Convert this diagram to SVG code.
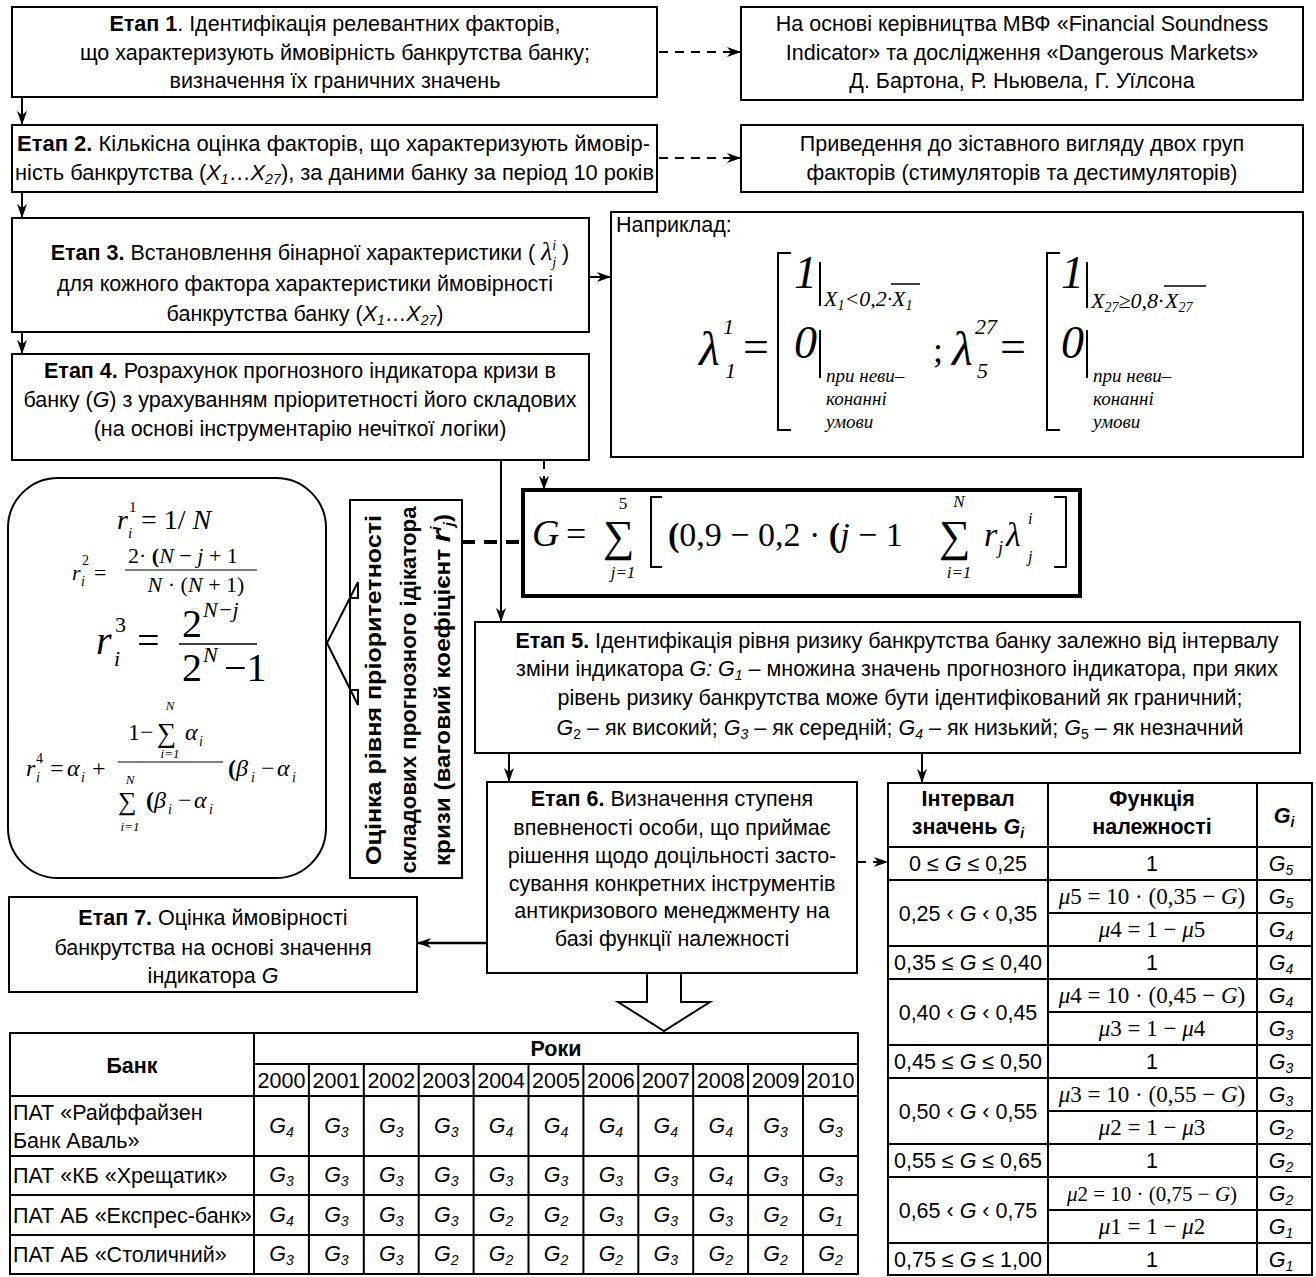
<svg xmlns="http://www.w3.org/2000/svg" width="1316" height="1277" viewBox="0 0 1316 1277">
<defs>
<marker id="ah" viewBox="0 0 14 10" refX="14" refY="5" markerWidth="14" markerHeight="10" markerUnits="userSpaceOnUse" orient="auto"><path d="M0,0 L14,5 L0,10 L4,5 z" fill="#000"/></marker>
</defs>
<style>
.b{fill:#fff;stroke:#000;stroke-width:2}
.t{font-family:"Liberation Sans",Arial,sans-serif;font-size:21.5px;fill:#000}
.c{text-anchor:middle}
.bd{font-weight:bold}
.i{font-style:italic}
.s{font-family:"Liberation Serif","Times New Roman",serif;fill:#000}
.si{font-family:"Liberation Serif","Times New Roman",serif;font-style:italic;fill:#000}
.ln{stroke:#000;stroke-width:2;fill:none}
.ds{stroke:#000;stroke-width:2;fill:none;stroke-dasharray:9 7}
.tb{stroke:#000;stroke-width:2;fill:none}
</style>
<rect width="1316" height="1277" fill="#fff"/>

<g id="stage1">
<rect class="b" x="12" y="7" width="645" height="90"/>
<text class="t c"><tspan x="335" y="31"><tspan class="bd">Етап 1</tspan>. Ідентифікація релевантних факторів,</tspan><tspan x="335" y="60">що характеризують ймовірність банкрутства банку;</tspan><tspan x="335" y="88">визначення їх граничних значень</tspan></text>
</g>

<g id="source1">
<rect class="b" x="741" y="7" width="562" height="93"/>
<text class="t c"><tspan x="1022" y="31">На основі керівництва МВФ «Financial Soundness</tspan><tspan x="1022" y="60">Indicator» та дослідження «Dangerous Markets»</tspan><tspan x="1022" y="88">Д. Бартона, Р. Ньювела, Г. Уїлсона</tspan></text>
</g>

<g id="stage2">
<rect class="b" x="12" y="125" width="645" height="67"/>
<text class="t" x="17" y="151" textLength="633" lengthAdjust="spacingAndGlyphs"><tspan class="bd">Етап 2.</tspan> Кількісна оцінка факторів, що характеризують ймовір-</text>
<text class="t" x="15" y="180" textLength="639" lengthAdjust="spacingAndGlyphs">ність банкрутства (<tspan class="i">X</tspan><tspan class="i" font-size="14" dy="4">1</tspan><tspan dy="-4">…</tspan><tspan class="i">X</tspan><tspan class="i" font-size="14" dy="4">27</tspan><tspan dy="-4">), за даними банку за період 10 років</tspan></text>
</g>

<g id="source2">
<rect class="b" x="741" y="125" width="562" height="67"/>
<text class="t c"><tspan x="1022" y="151">Приведення до зіставного вигляду двох груп</tspan><tspan x="1022" y="180">факторів (стимуляторів та дестимуляторів)</tspan></text>
</g>

<g id="stage3">
<rect class="b" x="12" y="218" width="577" height="114"/>
<text class="t c" x="310" y="260"><tspan class="bd">Етап 3.</tspan> Встановлення бінарної характеристики ( <tspan class="si" font-size="26">λ</tspan><tspan class="si" font-size="14" dy="-10">i</tspan><tspan class="si" font-size="14" dx="-4" dy="17">j</tspan><tspan dy="-7"> )</tspan></text>
<text class="t c" x="305" y="291">для кожного фактора характеристики ймовірності</text>
<text class="t c" x="305" y="321">банкрутства банку (<tspan class="i">X</tspan><tspan class="i" font-size="14" dy="4">1</tspan><tspan dy="-4">…</tspan><tspan class="i">X</tspan><tspan class="i" font-size="14" dy="4">27</tspan><tspan dy="-4">)</tspan></text>
</g>

<g id="example">
<rect class="b" x="611" y="212" width="692" height="245"/>
<text class="t" x="616" y="232">Наприклад:</text>
<text class="si" x="699" y="365" font-size="48">λ</text>
<text class="si" x="723" y="334" font-size="22">1</text>
<text class="si" x="725" y="378" font-size="22">1</text>
<text class="s" x="743" y="362" font-size="46">=</text>
<path class="ln" d="M791,253 H778 V430 H791" stroke-width="3"/>
<text class="si" x="794" y="288" font-size="46">1</text>
<line class="ln" x1="820" y1="262" x2="820" y2="306" stroke-width="1.5"/>
<text class="si" x="824" y="306" font-size="22">X<tspan font-size="14" dy="4">1</tspan><tspan dy="-4">&lt;0,2·</tspan></text>
<text class="si" x="892" y="306" font-size="22">X<tspan font-size="14" dy="4">1</tspan></text>
<line x1="891" y1="284" x2="920" y2="284" stroke="#000" stroke-width="1.5"/>
<text class="si" x="794" y="358" font-size="46">0</text>
<line class="ln" x1="820" y1="330" x2="820" y2="378" stroke-width="1.5"/>
<text class="si" font-size="19"><tspan x="826" y="382">при  неви–</tspan><tspan x="826" y="405">конанні</tspan><tspan x="826" y="428">умови</tspan></text>
<text class="s" x="933" y="362" font-size="36">;</text>
<text class="si" x="952" y="365" font-size="48">λ</text>
<text class="si" x="975" y="334" font-size="22">27</text>
<text class="si" x="977" y="378" font-size="22">5</text>
<text class="s" x="1000" y="362" font-size="46">=</text>
<path class="ln" d="M1060,253 H1047 V430 H1060" stroke-width="3"/>
<text class="si" x="1061" y="288" font-size="46">1</text>
<line class="ln" x1="1087" y1="262" x2="1087" y2="308" stroke-width="1.5"/>
<text class="si" x="1091" y="308" font-size="22">X<tspan font-size="14" dy="4">27</tspan><tspan dy="-4">≥0,8·</tspan></text>
<text class="si" x="1165" y="308" font-size="22">X<tspan font-size="14" dy="4">27</tspan></text>
<line x1="1164" y1="286" x2="1206" y2="286" stroke="#000" stroke-width="1.5"/>
<text class="si" x="1061" y="358" font-size="46">0</text>
<line class="ln" x1="1087" y1="330" x2="1087" y2="378" stroke-width="1.5"/>
<text class="si" font-size="19"><tspan x="1093" y="382">при  неви–</tspan><tspan x="1093" y="405">конанні</tspan><tspan x="1093" y="428">умови</tspan></text>
</g>

<g id="stage4">
<rect class="b" x="12" y="354" width="577" height="106"/>
<text class="t c"><tspan x="300" y="378"><tspan class="bd">Етап 4.</tspan> Розрахунок прогнозного індикатора кризи в</tspan><tspan x="300" y="407">банку (<tspan class="i">G</tspan>) з урахуванням пріоритетності його складових</tspan><tspan x="300" y="436">(на основі інструментарію нечіткої логіки)</tspan></text>
</g>

<g id="formulaG">
<rect x="523" y="490" width="557" height="106" fill="#fff" stroke="#000" stroke-width="4"/>
<text class="si" x="532" y="546" font-size="38">G</text>
<text class="s" x="566" y="546" font-size="36">=</text>
<text class="s" x="603" y="551" font-size="44">∑</text>
<text class="s c" x="623" y="509" font-size="17">5</text>
<text class="si c" x="623" y="578" font-size="17">j<tspan class="s">=1</tspan></text>
<path class="ln" d="M662,497 H651 V567 H662"/>
<text class="s" x="668" y="546" font-size="34"><tspan font-weight="bold">(</tspan>0,9 − 0,2 · <tspan font-weight="bold">(</tspan><tspan class="si">j</tspan> − 1</text>
<text class="s" x="939" y="551" font-size="44">∑</text>
<text class="si c" x="959" y="507" font-size="17">N</text>
<text class="si c" x="959" y="578" font-size="17">i<tspan class="s">=1</tspan></text>
<text class="si" x="984" y="546" font-size="34">r</text>
<text class="si" x="998" y="554" font-size="18">j</text>
<text class="si" x="1006" y="546" font-size="34">λ</text>
<text class="si" x="1028" y="524" font-size="16">i</text>
<text class="si" x="1028" y="562" font-size="16">j</text>
<path class="ln" d="M1054,497 H1066 V567 H1054"/>
</g>

<g id="weights">
<rect class="b" x="8" y="478" width="318" height="400" rx="50" ry="50"/>
<text class="si" x="117" y="529" font-size="28">r</text>
<text class="s" x="129" y="512" font-size="15">1</text>
<text class="si" x="128" y="538" font-size="15">i</text>
<text class="s" x="141" y="529" font-size="28">= 1/ <tspan class="si">N</tspan></text>
<text class="si" x="72" y="580" font-size="22">r</text>
<text class="s" x="82" y="565" font-size="14">2</text>
<text class="si" x="81" y="586" font-size="14">i</text>
<text class="s" x="94" y="580" font-size="22">=</text>
<text class="s" x="128" y="563" font-size="22">2· <tspan font-weight="bold">(</tspan><tspan class="si">N</tspan> − <tspan class="si">j</tspan> + 1</text>
<line x1="125" y1="570" x2="257" y2="570" stroke="#000" stroke-width="1.2"/>
<text class="s c" x="196" y="592" font-size="22"><tspan class="si">N</tspan> · (<tspan class="si">N</tspan> + 1)</text>
<text class="si" x="96" y="654" font-size="40">r</text>
<text class="s" x="115" y="632" font-size="22">3</text>
<text class="si" x="114" y="666" font-size="22">i</text>
<text class="s" x="137" y="654" font-size="40">=</text>
<text class="s" x="182" y="637" font-size="40">2</text>
<text class="si" x="203" y="617" font-size="22">N<tspan class="s">−</tspan>j</text>
<line x1="179" y1="644" x2="257" y2="644" stroke="#000" stroke-width="1.5"/>
<text class="s" x="182" y="681" font-size="40">2</text>
<text class="si" x="203" y="662" font-size="22">N</text>
<text class="s" x="224" y="681" font-size="40">−1</text>
<text class="s" x="128" y="740" font-size="24">1−</text>
<text class="s" x="157" y="742" font-size="27">∑</text>
<text class="si c" x="170" y="710" font-size="13">N</text>
<text class="si c" x="170" y="758" font-size="13">i<tspan class="s">=1</tspan></text>
<text class="si" x="185" y="740" font-size="24">α</text>
<text class="si" x="199" y="746" font-size="14">i</text>
<line x1="118" y1="762" x2="223" y2="762" stroke="#000" stroke-width="1.2"/>
<text class="si" x="26" y="776" font-size="24">r</text>
<text class="s" x="36" y="763" font-size="14">4</text>
<text class="si" x="36" y="782" font-size="14">i</text>
<text class="s" x="50" y="776" font-size="24">=</text>
<text class="si" x="67" y="776" font-size="24">α</text>
<text class="si" x="81" y="782" font-size="14">i</text>
<text class="s" x="92" y="776" font-size="24">+</text>
<text class="s" x="228" y="776" font-size="24"><tspan font-weight="bold">(</tspan><tspan class="si">β</tspan></text>
<text class="si" x="251" y="782" font-size="14">i</text>
<text class="s" x="261" y="776" font-size="24">−</text>
<text class="si" x="277" y="776" font-size="24">α</text>
<text class="si" x="292" y="782" font-size="14">i</text>
<text class="s" x="118" y="810" font-size="26">∑</text>
<text class="si c" x="130" y="784" font-size="13">N</text>
<text class="si c" x="130" y="831" font-size="13">i<tspan class="s">=1</tspan></text>
<text class="s" x="146" y="808" font-size="24"><tspan font-weight="bold">(</tspan><tspan class="si">β</tspan></text>
<text class="si" x="168" y="814" font-size="14">i</text>
<text class="s" x="178" y="808" font-size="24">−</text>
<text class="si" x="194" y="808" font-size="24">α</text>
<text class="si" x="209" y="814" font-size="14">i</text>
</g>

<g id="priority">
<rect class="b" x="350" y="500" width="112" height="378"/>
<text class="t c bd" transform="translate(381,690) rotate(-90)" textLength="350" lengthAdjust="spacingAndGlyphs">Оцінка рівня  пріоритетності</text>
<text class="t c bd" transform="translate(416,690) rotate(-90)" textLength="367" lengthAdjust="spacingAndGlyphs">складових прогнозного ідікатора</text>
<text class="t c bd" transform="translate(450,690) rotate(-90)" textLength="352" lengthAdjust="spacingAndGlyphs">кризи  (ваговий коефіцієнт <tspan class="i" font-size="26">r</tspan><tspan class="i" font-size="14" dy="-9">i</tspan><tspan class="i" font-size="14" dy="13">j</tspan><tspan dy="-4">)</tspan></text>
</g>

<g id="stage5">
<rect class="b" x="475" y="622" width="825" height="131"/>
<text class="t c"><tspan x="897" y="648"><tspan class="bd">Етап 5.</tspan> Ідентифікація рівня ризику банкрутства банку залежно від інтервалу</tspan><tspan x="897" y="676">зміни індикатора <tspan class="i">G:</tspan> <tspan class="i">G</tspan><tspan class="i" font-size="14" dy="4">1</tspan><tspan dy="-4"> – множина значень прогнозного індикатора, при яких</tspan></tspan><tspan x="900" y="705">рівень ризику банкрутства може бути ідентифікований як граничний;</tspan><tspan x="900" y="735"><tspan class="i">G</tspan><tspan font-size="14" dy="4">2</tspan><tspan dy="-4"> – як високий; </tspan><tspan class="i">G</tspan><tspan class="i" font-size="14" dy="4">3</tspan><tspan dy="-4"> – як середній; </tspan><tspan class="i">G</tspan><tspan class="i" font-size="14" dy="4">4</tspan><tspan dy="-4"> – як низький; </tspan><tspan class="i">G</tspan><tspan font-size="14" dy="4">5</tspan><tspan dy="-4">  – як незначний</tspan></tspan></text>
</g>

<g id="stage6">
<rect class="b" x="487" y="782" width="370" height="191"/>
<text class="t c"><tspan x="672" y="806"><tspan class="bd">Етап 6.</tspan> Визначення ступеня</tspan><tspan x="672" y="835">впевненості особи, що приймає</tspan><tspan x="672" y="863">рішення щодо доцільності засто-</tspan><tspan x="672" y="891">сування конкретних інструментів</tspan><tspan x="672" y="918">антикризового менеджменту на</tspan><tspan x="672" y="946">базі функції належності</tspan></text>
</g>

<g id="stage7">
<rect class="b" x="9" y="897" width="408" height="95"/>
<text class="t c"><tspan x="213" y="925"><tspan class="bd">Етап 7.</tspan> Оцінка ймовірності</tspan><tspan x="213" y="955">банкрутства на основі значення</tspan><tspan x="213" y="983">індикатора <tspan class="i">G</tspan></tspan></text>
</g>

<g id="membership-table">
<rect x="888" y="783" width="424" height="492" fill="#fff" stroke="#000" stroke-width="2"/>
<path class="tb" d="M888,847 H1312 M888,880 H1312 M888,946 H1312 M888,979 H1312 M888,1045 H1312 M888,1078 H1312 M888,1144 H1312 M888,1177 H1312 M888,1243 H1312 M1048,913 H1312 M1048,1012 H1312 M1048,1111 H1312 M1048,1210 H1312 M1048,783 V1275 M1257,783 V1275"/>
<text class="t c bd"><tspan x="968" y="806">Інтервал</tspan><tspan x="968" y="834">значень <tspan class="i">G</tspan><tspan class="i" font-size="14" dy="4">i</tspan></tspan></text>
<text class="t c bd"><tspan x="1152" y="806">Функція</tspan><tspan x="1152" y="834">належності</tspan></text>
<text class="t c bd" x="1284" y="823"><tspan class="i">G</tspan><tspan class="i" font-size="14" dy="4">i</tspan></text>
<g class="t c">
<text x="968" y="871">0 ≤ <tspan class="i">G</tspan> ≤ 0,25</text>
<text x="968" y="921">0,25 ‹ <tspan class="i">G</tspan> ‹ 0,35</text>
<text x="968" y="970">0,35 ≤ <tspan class="i">G</tspan> ≤ 0,40</text>
<text x="968" y="1020">0,40 ‹ <tspan class="i">G</tspan> ‹ 0,45</text>
<text x="968" y="1069">0,45 ≤ <tspan class="i">G</tspan> ≤ 0,50</text>
<text x="968" y="1119">0,50 ‹ <tspan class="i">G</tspan> ‹  0,55</text>
<text x="968" y="1168">0,55 ≤ <tspan class="i">G</tspan> ≤ 0,65</text>
<text x="968" y="1218">0,65 ‹ <tspan class="i">G</tspan> ‹ 0,75</text>
<text x="968" y="1267">0,75 ≤ <tspan class="i">G</tspan> ≤ 1,00</text>
<text x="1152" y="871">1</text>
<text x="1152" y="970">1</text>
<text x="1152" y="1069">1</text>
<text x="1152" y="1168">1</text>
<text x="1152" y="1267">1</text>
</g>
<g class="s c" font-size="23">
<text x="1152" y="904"><tspan class="si">μ</tspan>5 = 10 · (0,35 − <tspan class="si">G</tspan>)</text>
<text x="1152" y="937"><tspan class="si">μ</tspan>4 = 1 − <tspan class="si">μ</tspan>5</text>
<text x="1152" y="1003"><tspan class="si">μ</tspan>4 = 10 · (0,45 − <tspan class="si">G</tspan>)</text>
<text x="1152" y="1036"><tspan class="si">μ</tspan>3 = 1 − <tspan class="si">μ</tspan>4</text>
<text x="1152" y="1102"><tspan class="si">μ</tspan>3 = 10 · (0,55 − <tspan class="si">G</tspan>)</text>
<text x="1152" y="1135"><tspan class="si">μ</tspan>2 = 1 − <tspan class="si">μ</tspan>3</text>
<text x="1152" y="1201" font-size="21"><tspan class="si">μ</tspan>2 = 10 · (0,75 − <tspan class="si">G</tspan>)</text>
<text x="1152" y="1234"><tspan class="si">μ</tspan>1 = 1 − <tspan class="si">μ</tspan>2</text>
</g>
<g class="t c i">
<text x="1281" y="871">G<tspan font-size="14" dy="4">5</tspan></text>
<text x="1281" y="904">G<tspan font-size="14" dy="4">5</tspan></text>
<text x="1281" y="937">G<tspan font-size="14" dy="4">4</tspan></text>
<text x="1281" y="970">G<tspan font-size="14" dy="4">4</tspan></text>
<text x="1281" y="1003">G<tspan font-size="14" dy="4">4</tspan></text>
<text x="1281" y="1036">G<tspan font-size="14" dy="4">3</tspan></text>
<text x="1281" y="1069">G<tspan font-size="14" dy="4">3</tspan></text>
<text x="1281" y="1102">G<tspan font-size="14" dy="4">3</tspan></text>
<text x="1281" y="1135">G<tspan font-size="14" dy="4">2</tspan></text>
<text x="1281" y="1168">G<tspan font-size="14" dy="4">2</tspan></text>
<text x="1281" y="1201">G<tspan font-size="14" dy="4">2</tspan></text>
<text x="1281" y="1234">G<tspan font-size="14" dy="4">1</tspan></text>
<text x="1281" y="1267">G<tspan font-size="14" dy="4">1</tspan></text>
</g>
</g>

<g id="banks-table">
<rect x="10" y="1033" width="848" height="241" fill="#fff" stroke="#000" stroke-width="2"/>
<path class="tb" d="M254,1064 H858 M254,1096 H858 M10,1096 H858 M10,1156 H858 M10,1195 H858 M10,1235 H858 M254,1033 V1274 M308.9,1064 V1274 M363.8,1064 V1274 M418.7,1064 V1274 M473.6,1064 V1274 M528.5,1064 V1274 M583.4,1064 V1274 M638.3,1064 V1274 M693.2,1064 V1274 M748.1,1064 V1274 M803,1064 V1274"/>
<text class="t c bd" x="132" y="1073">Банк</text>
<text class="t c bd" x="556" y="1056">Роки</text>
<g class="t c">
<text x="281.5" y="1088">2000</text><text x="336.4" y="1088">2001</text><text x="391.3" y="1088">2002</text><text x="446.2" y="1088">2003</text><text x="501.1" y="1088">2004</text><text x="556" y="1088">2005</text><text x="610.9" y="1088">2006</text><text x="665.8" y="1088">2007</text><text x="720.7" y="1088">2008</text><text x="775.6" y="1088">2009</text><text x="830.5" y="1088">2010</text>
</g>
<text class="t"><tspan x="13" y="1120">ПАТ «Райффайзен</tspan><tspan x="13" y="1148">Банк Аваль»</tspan></text>
<text class="t" x="13" y="1183">ПАТ «КБ «Хрещатик»</text>
<text class="t" x="13" y="1223">ПАТ АБ «Експрес-банк»</text>
<text class="t" x="13" y="1262">ПАТ АБ «Столичний»</text>
<g class="t c i">
<text x="281.5" y="1133">G<tspan font-size="14" dy="4">4</tspan></text><text x="336.4" y="1133">G<tspan font-size="14" dy="4">3</tspan></text><text x="391.3" y="1133">G<tspan font-size="14" dy="4">3</tspan></text><text x="446.2" y="1133">G<tspan font-size="14" dy="4">3</tspan></text><text x="501.1" y="1133">G<tspan font-size="14" dy="4">4</tspan></text><text x="556" y="1133">G<tspan font-size="14" dy="4">4</tspan></text><text x="610.9" y="1133">G<tspan font-size="14" dy="4">4</tspan></text><text x="665.8" y="1133">G<tspan font-size="14" dy="4">4</tspan></text><text x="720.7" y="1133">G<tspan font-size="14" dy="4">4</tspan></text><text x="775.6" y="1133">G<tspan font-size="14" dy="4">3</tspan></text><text x="830.5" y="1133">G<tspan font-size="14" dy="4">3</tspan></text>
<text x="281.5" y="1182">G<tspan font-size="14" dy="4">3</tspan></text><text x="336.4" y="1182">G<tspan font-size="14" dy="4">3</tspan></text><text x="391.3" y="1182">G<tspan font-size="14" dy="4">3</tspan></text><text x="446.2" y="1182">G<tspan font-size="14" dy="4">3</tspan></text><text x="501.1" y="1182">G<tspan font-size="14" dy="4">3</tspan></text><text x="556" y="1182">G<tspan font-size="14" dy="4">3</tspan></text><text x="610.9" y="1182">G<tspan font-size="14" dy="4">3</tspan></text><text x="665.8" y="1182">G<tspan font-size="14" dy="4">3</tspan></text><text x="720.7" y="1182">G<tspan font-size="14" dy="4">4</tspan></text><text x="775.6" y="1182">G<tspan font-size="14" dy="4">3</tspan></text><text x="830.5" y="1182">G<tspan font-size="14" dy="4">3</tspan></text>
<text x="281.5" y="1222">G<tspan font-size="14" dy="4">4</tspan></text><text x="336.4" y="1222">G<tspan font-size="14" dy="4">3</tspan></text><text x="391.3" y="1222">G<tspan font-size="14" dy="4">3</tspan></text><text x="446.2" y="1222">G<tspan font-size="14" dy="4">3</tspan></text><text x="501.1" y="1222">G<tspan font-size="14" dy="4">2</tspan></text><text x="556" y="1222">G<tspan font-size="14" dy="4">2</tspan></text><text x="610.9" y="1222">G<tspan font-size="14" dy="4">3</tspan></text><text x="665.8" y="1222">G<tspan font-size="14" dy="4">3</tspan></text><text x="720.7" y="1222">G<tspan font-size="14" dy="4">3</tspan></text><text x="775.6" y="1222">G<tspan font-size="14" dy="4">2</tspan></text><text x="830.5" y="1222">G<tspan font-size="14" dy="4">1</tspan></text>
<text x="281.5" y="1261">G<tspan font-size="14" dy="4">3</tspan></text><text x="336.4" y="1261">G<tspan font-size="14" dy="4">3</tspan></text><text x="391.3" y="1261">G<tspan font-size="14" dy="4">3</tspan></text><text x="446.2" y="1261">G<tspan font-size="14" dy="4">2</tspan></text><text x="501.1" y="1261">G<tspan font-size="14" dy="4">2</tspan></text><text x="556" y="1261">G<tspan font-size="14" dy="4">2</tspan></text><text x="610.9" y="1261">G<tspan font-size="14" dy="4">2</tspan></text><text x="665.8" y="1261">G<tspan font-size="14" dy="4">3</tspan></text><text x="720.7" y="1261">G<tspan font-size="14" dy="4">2</tspan></text><text x="775.6" y="1261">G<tspan font-size="14" dy="4">2</tspan></text><text x="830.5" y="1261">G<tspan font-size="14" dy="4">2</tspan></text>
</g>
</g>

<g id="connectors">
<line class="ln" x1="22" y1="97" x2="22" y2="125" marker-end="url(#ah)"/>
<line class="ln" x1="22" y1="192" x2="22" y2="218" marker-end="url(#ah)"/>
<line class="ln" x1="22" y1="332" x2="22" y2="354" marker-end="url(#ah)"/>
<line class="ds" x1="659" y1="52" x2="741" y2="52" marker-end="url(#ah)"/>
<line class="ds" x1="659" y1="158" x2="741" y2="158" marker-end="url(#ah)"/>
<line class="ln" x1="589" y1="277" x2="611" y2="277" marker-end="url(#ah)"/>
<line class="ln" x1="501" y1="460" x2="501" y2="622" marker-end="url(#ah)"/>
<line class="ds" x1="544" y1="460" x2="544" y2="490" marker-end="url(#ah)"/>
<line x1="462" y1="542" x2="523" y2="542" stroke="#000" stroke-width="4" stroke-dasharray="13 9"/>
<polygon points="350,598 358,598 358,582 327,643 358,705 358,690 350,690" fill="#fff" stroke="#000" stroke-width="2"/>
<line class="ln" x1="509" y1="753" x2="509" y2="782" marker-end="url(#ah)"/>
<line class="ln" x1="922" y1="753" x2="922" y2="783" marker-end="url(#ah)"/>
<line class="ds" x1="857" y1="862" x2="888" y2="862" marker-end="url(#ah)"/>
<line x1="487" y1="943" x2="417" y2="943" stroke="#000" stroke-width="2.5" marker-end="url(#ah)"/>
<polygon points="647,973 681,973 681,1002 710,1002 664,1031 618,1002 647,1002" fill="#fff" stroke="#000" stroke-width="2"/>
</g>
</svg>
